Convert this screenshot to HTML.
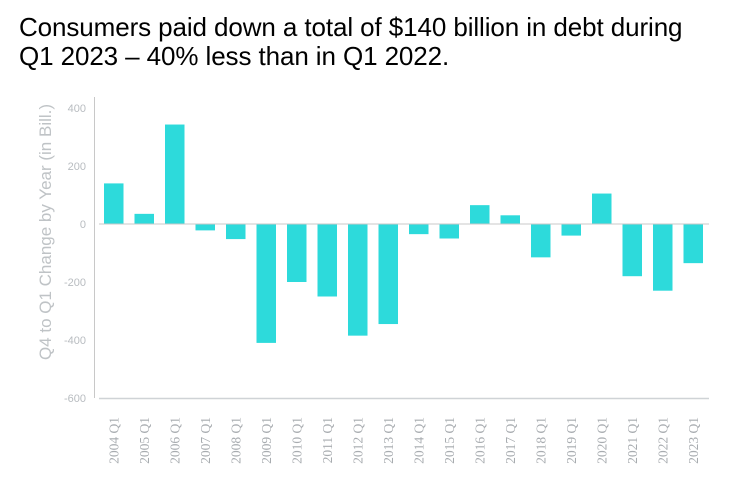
<!DOCTYPE html>
<html><head><meta charset="utf-8"><style>
body{margin:0;background:#fff;width:733px;height:492px;overflow:hidden}
.t{position:absolute;left:19px;top:13px;font:26px "Liberation Sans",sans-serif;color:#000;line-height:29px;letter-spacing:-0.1px}
</style></head><body>
<div class="t">Consumers paid down a total of $140 billion in debt during<br>Q1 2023 – 40% less than in Q1 2022.</div>
<svg width="733" height="492" style="position:absolute;left:0;top:0">
<line x1="94.5" y1="97" x2="94.5" y2="398" stroke="#c8c8c8"/>
<line x1="99" y1="398.5" x2="709" y2="398.5" stroke="#cfd3d6" stroke-width="1.5"/>
<g font-family="Liberation Sans,sans-serif" font-size="11" fill="#b8bcc0" text-anchor="end">
<text x="86" y="112">400</text><text x="86" y="170">200</text><text x="86" y="228">0</text>
<text x="86" y="286">-200</text><text x="86" y="344">-400</text><text x="86" y="402">-600</text>
</g>
<text transform="translate(51,232) rotate(-90)" text-anchor="middle" font-family="Liberation Sans,sans-serif" font-size="17" fill="#bfc3c6">Q4 to Q1 Change by Year (in Bill.)</text>
<g id="bars" fill="#2ddadb"></g>
<line x1="99" y1="224" x2="709" y2="224" stroke="#c8c8c8"/>
<g id="labs" font-family="Liberation Serif,serif" font-size="13.5" fill="#a8acb0" text-anchor="end"></g>
</svg>
<script>
var v=[140,35,343,-22,-52,-410,-200,-250,-385,-345,-35,-50,65,30,-115,-40,105,-180,-230,-135];
var b=document.getElementById('bars'),l=document.getElementById('labs'),s='',t='';
v.forEach(function(d,i){var x=104+i*30.5,h=Math.abs(d)*0.29,y=d>0?224-h:224;
s+='<rect x="'+x+'" y="'+y+'" width="19.5" height="'+h+'"/>';
var cx=x+9.75+4.5;t+='<text transform="translate('+cx+',417) rotate(-90)">'+(2004+i)+' Q1</text>';});
b.innerHTML=s;l.innerHTML=t;
</script>
</body></html>
